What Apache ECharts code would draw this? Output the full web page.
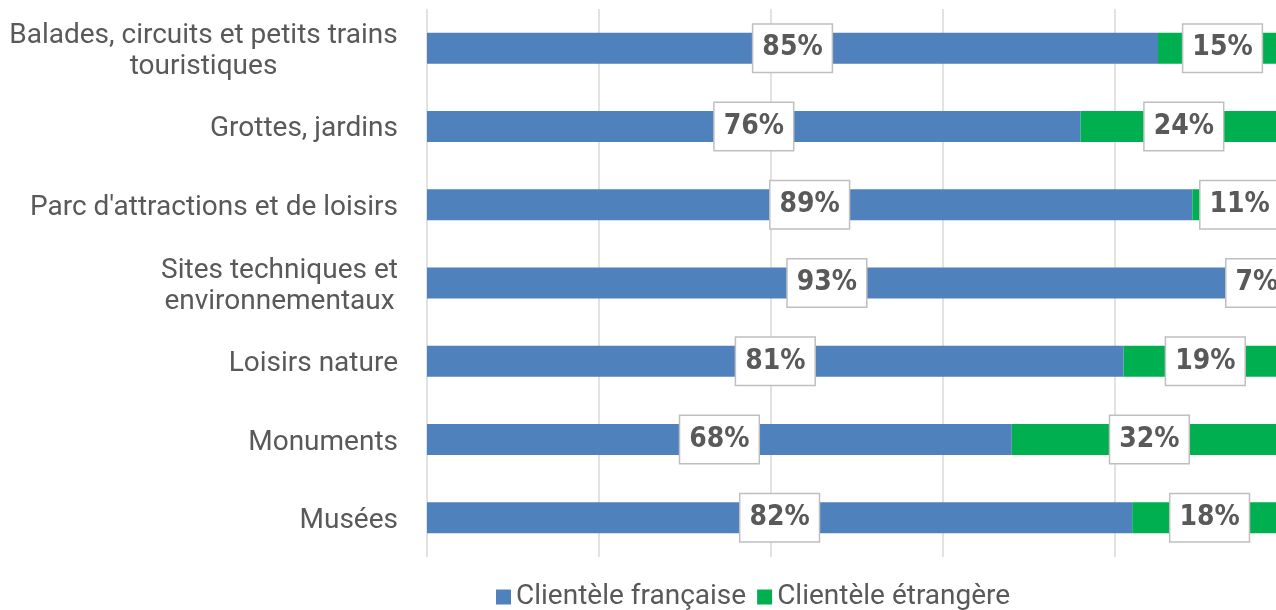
<!DOCTYPE html>
<html>
<head>
<meta charset="utf-8">
<script src="https://cdn.jsdelivr.net/npm/echarts@6/dist/echarts.min.js"></script>
<style>
html,body{margin:0;padding:0;background:#fff;}
#c{width:1276px;height:610px;}
</style>
</head>
<body>
<div id="c"></div>
<script>
var categories = [
  "Balades, circuits et petits trains\ntouristiques",
  "Grottes, jardins",
  "Parc d'attractions et de loisirs",
  "Sites techniques et\nenvironnementaux",
  "Loisirs nature",
  "Monuments",
  "Musées"
];
var francaise = [85, 76, 89, 93, 81, 68, 82];
var etrangere = [15, 24, 11, 7, 19, 32, 18];
var seriesNames = ["Clientèle française", "Clientèle étrangère"];

var catFontSize = 28;
var ctx = document.createElement("canvas").getContext("2d");
ctx.font = catFontSize + "px Roboto";
var rich = {};
categories.forEach(function (c, i) {
  var lines = c.split("\n");
  var w = 0;
  lines.forEach(function (l) { w = Math.max(w, ctx.measureText(l).width); });
  rich["c" + i] = { width: Math.ceil(w), align: lines.length > 1 ? "center" : "right",
    fontFamily: "Roboto", fontSize: catFontSize, color: "#595959", lineHeight: 31 };
});

var labelStyle = {
  show: true,
  position: "inside",
  formatter: "{c}%",
  fontFamily: "DejaVu Sans Condensed",
  fontWeight: "bold",
  fontSize: 28,
  color: "#595959",
  backgroundColor: "#ffffff",
  borderColor: "#bfbfbf",
  borderWidth: 1.5,
  padding: [10, 9, 9, 9]
};

var chart = echarts.init(document.getElementById("c"), null, { renderer: "canvas" });
chart.setOption({
  animation: false,
  grid: { left: 427, width: 860, top: 9, bottom: 53, containLabel: false, outerBoundsMode: "none" },
  legend: {
    data: seriesNames,
    left: 491,
    top: 578,
    itemWidth: 15,
    itemHeight: 15,
    itemGap: 11,
    icon: "rect",
    textStyle: { fontFamily: "Roboto", fontSize: 28, color: "#595959" }
  },
  xAxis: {
    type: "value",
    min: 0,
    max: 100,
    interval: 20,
    axisLabel: { show: false },
    axisLine: { show: false },
    axisTick: { show: false },
    splitLine: { show: true, lineStyle: { color: "#d9d9d9", width: 1.5 } }
  },
  yAxis: {
    type: "category",
    inverse: true,
    data: categories,
    axisLine: { show: false },
    axisTick: { show: false },
    axisLabel: {
      margin: 29,
      padding: [6, 0, 0, 0],
      formatter: function (v, i) {
        return v.split("\n").map(function (l) { return "{c" + i + "|" + l + "}"; }).join("\n");
      },
      rich: rich
    }
  },
  series: [
    {
      name: seriesNames[0], type: "bar", stack: "t", data: francaise,
      barWidth: 31,
      itemStyle: { color: "#4f81bd" },
      label: labelStyle
    },
    {
      name: seriesNames[1], type: "bar", stack: "t", data: etrangere,
      barWidth: 31,
      itemStyle: { color: "#00b050" },
      label: labelStyle
    }
  ]
});
</script>
</body>
</html>
